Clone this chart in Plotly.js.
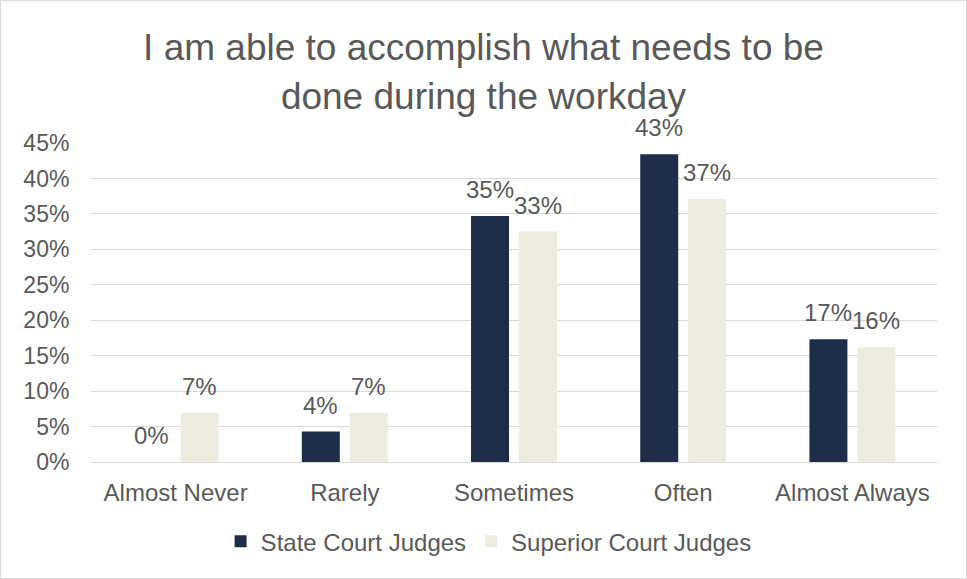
<!DOCTYPE html>
<html><head><meta charset="utf-8">
<script src="https://cdn.plot.ly/plotly-3.0.1.min.js"></script>
<style>body{margin:0;padding:0;background:#fff}#chart{width:965px;height:577px;border:1px solid #d9d9d9}</style>
</head><body><div id="chart"></div>
<script>
const categories = ["Almost Never", "Rarely", "Sometimes", "Often", "Almost Always"];
const stateCourt = [0.00, 0.043, 0.347, 0.434, 0.173];
const superiorCourt = [0.069, 0.069, 0.325, 0.371, 0.162];
const seriesNames = ["State Court Judges", "Superior Court Judges"];
const titleText = "I am able to accomplish what needs to be<br>done during the workday";

const fontFam = "Liberation Sans, Arial, sans-serif";
const gray = "#595959";
const colors = ["#1f2d4a", "#eeebe0"];
function pct(v){return Math.round(v*100) + "%";}

const traces = [
  {type:"bar", name:seriesNames[0], x:categories, y:stateCourt, marker:{color:colors[0]}, hoverinfo:"none"},
  {type:"bar", name:seriesNames[1], x:categories, y:superiorCourt, marker:{color:colors[1]}, hoverinfo:"none"}
];

// data labels as annotations anchored to each bar top (through the axes)
const annotations = [];
[stateCourt, superiorCourt].forEach((series, si) => {
  series.forEach((v, i) => {
    annotations.push({x:categories[i], y:v, xref:"x", yref:"y", text:pct(v), showarrow:false,
      xanchor:"center", yanchor:"bottom", xshift: si === 0 ? -24 : 24, yshift:11,
      font:{family:fontFam, size:24, color:gray}});
  });
});

const layout = {
  width:965, height:577,
  margin:{l:90, r:29, t:142, b:116},
  paper_bgcolor:"#ffffff", plot_bgcolor:"#ffffff",
  font:{family:fontFam, color:gray},
  title:{text:titleText, font:{family:fontFam,size:37,color:gray}, x:0.5, xanchor:"center",
         yref:"container", y:0.897, yanchor:"middle"},
  barmode:"group", bargap:0.433, bargroupgap:0.208,
  xaxis:{tickfont:{size:24,color:gray,family:fontFam}, showline:false, ticks:"outside", ticklen:9, tickcolor:"rgba(0,0,0,0)", fixedrange:true},
  yaxis:{range:[0,0.45], dtick:0.05, tickformat:".0%", tickfont:{size:23,color:gray,family:fontFam},
         gridcolor:"#d9d9d9", gridwidth:1, zeroline:true, zerolinecolor:"#d9d9d9", zerolinewidth:1,
         showline:false, ticks:"outside", ticklen:16, tickcolor:"rgba(0,0,0,0)", fixedrange:true},
  annotations: annotations,
  showlegend:true,
  legend:{orientation:"h", x:0.47, xanchor:"center", y:-0.25, yanchor:"middle",
          font:{size:24,color:gray,family:fontFam}, itemwidth:30, traceorder:"normal"}
};
Plotly.newPlot("chart", traces, layout, {displayModeBar:false, staticPlot:true});
</script></body></html>
